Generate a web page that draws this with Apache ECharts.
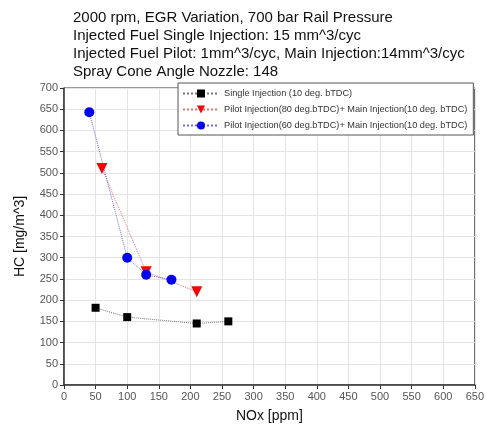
<!DOCTYPE html>
<html>
<head>
<meta charset="utf-8">
<script src="https://cdn.jsdelivr.net/npm/echarts@6/dist/echarts.min.js"></script>
<style>
  html, body { margin: 0; padding: 0; background: #fff; }
  #main { width: 487px; height: 429px; }
</style>
</head>
<body>
<div id="main"></div>
<script>
var myChart = echarts.init(document.getElementById('main'));

// data: [NOx ppm, HC mg/m^3]
var singleNox = [50, 100, 210, 260];
var singleHc = [182, 160, 145, 150];
var pilot80Nox = [60, 130, 210];
var pilot80Hc = [510, 267, 220];
var pilot60Nox = [40, 100, 130, 170];
var pilot60Hc = [643, 300, 260, 248];

var seriesNames = [
    'Single Injection (10 deg. bTDC)',
    'Pilot Injection(80 deg.bTDC)+ Main Injection(10 deg. bTDC)',
    'Pilot Injection(60 deg.bTDC)+ Main Injection(10 deg. bTDC)'
];

var titleLines = [
    '2000 rpm, EGR Variation, 700 bar Rail Pressure',
    'Injected Fuel Single Injection: 15 mm^3/cyc',
    'Injected Fuel Pilot: 1mm^3/cyc, Main Injection:14mm^3/cyc',
    'Spray Cone Angle Nozzle: 148'
];

function pairs(xs, ys) {
    return xs.map(function (x, i) { return [x, ys[i]]; });
}

var font = '"Liberation Sans", Arial, sans-serif';

var option = {
    backgroundColor: '#fff',
    animation: false,
    title: {
        text: titleLines.join('\n'),
        left: 68,
        top: 4,
        textStyle: {
            fontFamily: font,
            fontSize: 15,
            fontWeight: 'normal',
            color: '#111',
            lineHeight: 18
        }
    },
    grid: {
        left: 64,
        right: 11,
        top: 88,
        bottom: 44,
        show: true,
        borderColor: '#333',
        borderWidth: 1
    },
    legend: {
        orient: 'vertical',
        left: 178,
        top: 83,
        itemWidth: 36,
        itemHeight: 10,
        itemGap: 7,
        padding: [6, 6, 5, 4],
        borderColor: '#555',
        borderWidth: 1,
        backgroundColor: '#fff',
        textStyle: {
            fontFamily: font,
            fontSize: 9.2,
            color: '#333'
        },
        data: seriesNames
    },
    xAxis: {
        type: 'value',
        min: 0,
        max: 650,
        interval: 50,
        name: 'NOx [ppm]',
        nameLocation: 'middle',
        nameGap: 24,
        nameTextStyle: { fontFamily: font, fontSize: 14, color: '#111' },
        axisLine: { lineStyle: { color: '#333', width: 1.5 } },
        axisTick: { show: true, inside: false, length: 4, lineStyle: { color: '#333' } },
        axisLabel: { fontFamily: font, fontSize: 11, color: '#555', margin: 6 },
        splitLine: { show: true, lineStyle: { color: '#e4e4e4', width: 1 } }
    },
    yAxis: {
        type: 'value',
        min: 0,
        max: 700,
        interval: 50,
        name: 'HC [mg/m^3]',
        nameLocation: 'middle',
        nameGap: 37,
        nameTextStyle: { fontFamily: font, fontSize: 14, color: '#111' },
        axisLine: { show: true, lineStyle: { color: '#333', width: 1.5 } },
        axisTick: { show: true, inside: false, length: 4, lineStyle: { color: '#333' } },
        axisLabel: { fontFamily: font, fontSize: 11, color: '#555', margin: 6 },
        splitLine: { show: true, lineStyle: { color: '#e4e4e4', width: 1 } }
    },
    series: [
        {
            name: seriesNames[0],
            type: 'line',
            symbol: 'rect',
            symbolSize: 8,
            itemStyle: { color: '#000' },
            lineStyle: { color: '#777', width: 1, type: 'dotted' },
            data: pairs(singleNox, singleHc)
        },
        {
            name: seriesNames[1],
            type: 'line',
            symbol: 'triangle',
            symbolRotate: 180,
            symbolSize: 11,
            itemStyle: { color: '#ff0000' },
            lineStyle: { color: '#f07070', width: 1, type: 'dotted' },
            data: pairs(pilot80Nox, pilot80Hc)
        },
        {
            name: seriesNames[2],
            type: 'line',
            symbol: 'circle',
            symbolSize: 10,
            itemStyle: { color: '#0000ff' },
            lineStyle: { color: '#6b6bf0', width: 1, type: 'dotted' },
            data: pairs(pilot60Nox, pilot60Hc)
        }
    ]
};

myChart.setOption(option);
</script>
</body>
</html>
